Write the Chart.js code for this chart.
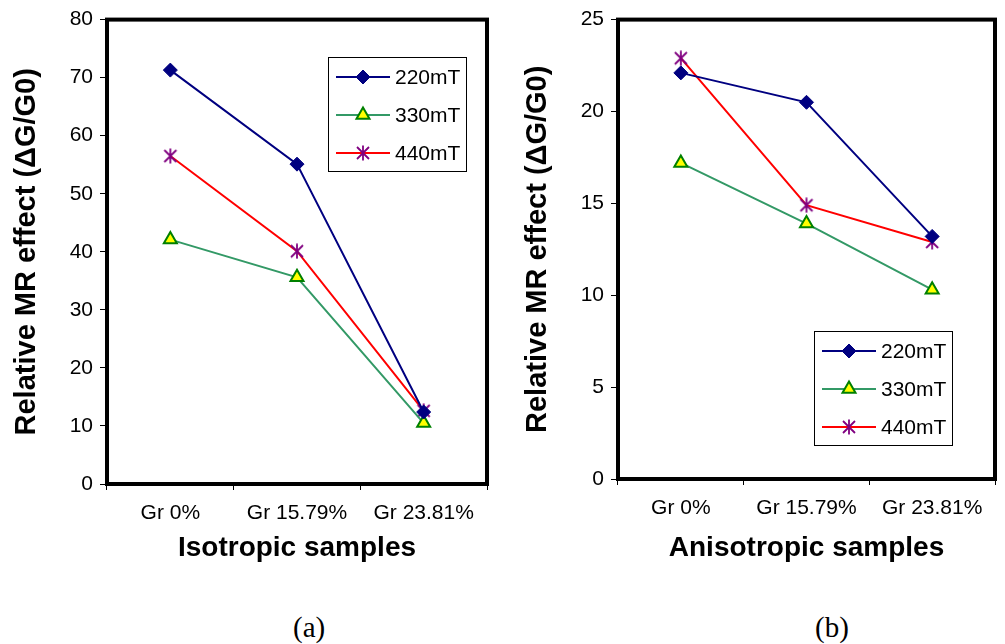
<!DOCTYPE html>
<html>
<head>
<meta charset="utf-8">
<script src="https://cdn.jsdelivr.net/npm/chart.js@4/dist/chart.umd.min.js"></script>
<style>
  body { margin: 0; background: #fff; width: 1005px; height: 644px; position: relative; overflow: hidden; }
  .panel { position: absolute; top: 0; width: 500px; height: 580px; }
  .cap { position: absolute; top: 611px; line-height: 32px; font: 29px "Liberation Serif", "Times New Roman", serif; color: #000; }
</style>
</head>
<body>
<div class="panel" style="left:0"><canvas id="chartA" width="500" height="580"></canvas></div>
<div class="panel" style="left:505px"><canvas id="chartB" width="500" height="580"></canvas></div>
<div class="cap" style="left:293px">(a)</div>
<div class="cap" style="left:815px">(b)</div>

<script>
// data
const categories = ['Gr 0%', 'Gr 15.79%', 'Gr 23.81%'];
const seriesNames = ['220mT', '330mT', '440mT'];

const iso220 = [71.3, 55.1, 12.4];
const iso330 = [42.1, 35.6, 10.5];
const iso440 = [56.5, 40.1, 12.6];

const aniso220 = [22.1, 20.5, 13.2];
const aniso330 = [17.2, 13.9, 10.3];
const aniso440 = [22.9, 14.9, 12.9];

const FONT = '"Liberation Sans", Arial, sans-serif';

// asterisk marker (x with a vertical bar), like the Excel one
function makeAsterisk() {
  const c = document.createElement('canvas');
  c.width = 16; c.height = 16;
  const g = c.getContext('2d');
  g.strokeStyle = '#800080';
  g.lineWidth = 1.8;
  g.beginPath();
  g.moveTo(2, 2); g.lineTo(14, 14);
  g.moveTo(14, 2); g.lineTo(2, 14);
  g.moveTo(8, 0.5); g.lineTo(8, 15.5);
  g.stroke();
  return c;
}
const asterisk = makeAsterisk();

function makeDatasets(v220, v330, v440) {
  return [
    { label: seriesNames[0], data: v220, borderColor: '#000080', backgroundColor: '#000080',
      borderWidth: 2, pointStyle: 'rectRot', pointRadius: 7, pointBorderWidth: 1 },
    { label: seriesNames[1], data: v330, borderColor: '#339966', backgroundColor: '#ffff00',
      pointBorderColor: '#008000', borderWidth: 2, pointStyle: 'triangle', pointRadius: 7.5, pointBorderWidth: 2 },
    { label: seriesNames[2], data: v440, borderColor: '#ff0000', backgroundColor: '#800080',
      borderWidth: 2, pointStyle: asterisk, pointRadius: 8 }
  ];
}

// thick frame around the plot area
const framePlugin = {
  id: 'frame',
  afterDatasetsDraw(chart) {
    const a = chart.chartArea, ctx = chart.ctx;
    ctx.save();
    ctx.strokeStyle = '#000';
    ctx.lineWidth = 4;
    ctx.strokeRect(a.left, a.top, a.right - a.left, a.bottom - a.top);
    ctx.restore();
  }
};

// boxed legend like the original
const boxLegend = {
  id: 'boxLegend',
  afterDraw(chart, args, opts) {
    const ctx = chart.ctx;
    const x = opts.x, y = opts.y, w = opts.w, h = opts.h;
    ctx.save();
    ctx.fillStyle = '#fff';
    ctx.fillRect(x, y, w, h);
    ctx.strokeStyle = '#000';
    ctx.lineWidth = 1;
    ctx.strokeRect(x + 0.5, y + 0.5, w, h);
    chart.data.datasets.forEach((ds, i) => {
      const cy = y + 20 + i * 38;
      ctx.strokeStyle = ds.borderColor;
      ctx.lineWidth = ds.borderWidth;
      ctx.beginPath();
      ctx.moveTo(x + 8, cy);
      ctx.lineTo(x + 62, cy);
      ctx.stroke();
      ctx.fillStyle = ds.backgroundColor;
      ctx.strokeStyle = ds.pointBorderColor || ds.borderColor;
      ctx.lineWidth = ds.pointBorderWidth || 1;
      Chart.helpers.drawPoint(ctx, { pointStyle: ds.pointStyle, radius: ds.pointRadius, rotation: 0, borderWidth: ctx.lineWidth }, x + 35, cy);
      ctx.fillStyle = '#000';
      ctx.font = '21px ' + FONT;
      ctx.textBaseline = 'middle';
      ctx.fillText(ds.label, x + 67, cy + 1);
    });
    ctx.restore();
  }
};

function buildChart(id, datasets, o) {
  return new Chart(document.getElementById(id), {
    type: 'line',
    data: { labels: categories, datasets: datasets },
    plugins: [framePlugin, boxLegend],
    options: {
      responsive: false,
      animation: false,
      layout: { padding: { top: 18, right: o.padRight, left: 0, bottom: 0 } },
      plugins: {
        legend: { display: false },
        tooltip: { enabled: false },
        boxLegend: o.legend
      },
      scales: {
        x: {
          offset: true,
          grid: { display: true, drawOnChartArea: false, offset: true, tickLength: 6, color: '#000', tickColor: '#000' },
          border: { display: false },
          ticks: { color: '#000', font: { family: FONT, size: 21 }, padding: 11, maxRotation: 0 },
          title: { display: true, text: o.xTitle, color: '#000', font: { family: FONT, size: 28, weight: 'bold' }, padding: { bottom: 15 } },
          afterFit(s) { s.height = o.xHeight; }
        },
        y: {
          min: 0, max: o.yMax,
          ticks: { stepSize: o.step, color: '#000', font: { family: FONT, size: 21 }, padding: 7 },
          grid: { display: true, drawOnChartArea: false, tickLength: 7, color: '#000', tickColor: '#000' },
          border: { display: false },
          title: { display: true, text: 'Relative MR effect (ΔG/G0)', color: '#000', font: { family: FONT, size: 29, weight: 'bold' }, padding: { top: o.yTitlePad } },
          afterFit(s) { s.width = o.yWidth; }
        }
      }
    }
  });
}

buildChart('chartA', makeDatasets(iso220, iso330, iso440), {
  xTitle: 'Isotropic samples', yMax: 80, step: 10,
  yWidth: 107, xHeight: 96, padRight: 13, yTitlePad: 10,
  legend: { x: 328, y: 57, w: 138, h: 114 }
});

buildChart('chartB', makeDatasets(aniso220, aniso330, aniso440), {
  xTitle: 'Anisotropic samples', yMax: 25, step: 5,
  yWidth: 113, xHeight: 101, padRight: 7, yTitlePad: 16,
  legend: { x: 309, y: 331, w: 138, h: 114 }
});
</script>
</body>
</html>
